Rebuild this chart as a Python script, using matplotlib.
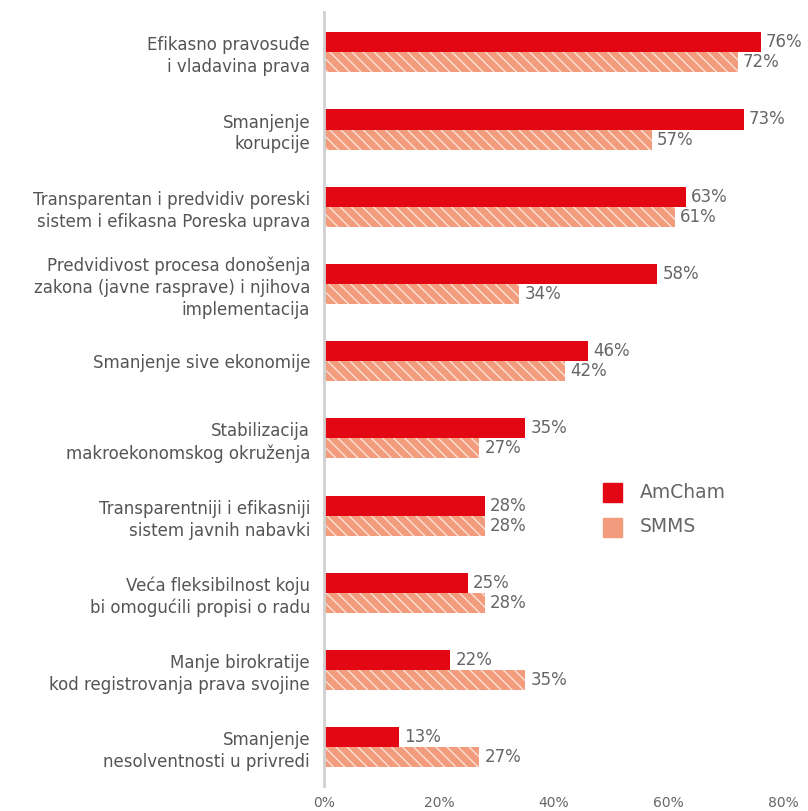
import numpy as np
import matplotlib.pyplot as plt

# data
categories = [
    "Efikasno pravosuđe\ni vladavina prava",
    "Smanjenje\nkorupcije",
    "Transparentan i predvidiv poreski\nsistem i efikasna Poreska uprava",
    "Predvidivost procesa donošenja\nzakona (javne rasprave) i njihova\nimplementacija",
    "Smanjenje sive ekonomije",
    "Stabilizacija\nmakroekonomskog okruženja",
    "Transparentniji i efikasniji\nsistem javnih nabavki",
    "Veća fleksibilnost koju\nbi omogućili propisi o radu",
    "Manje birokratije\nkod registrovanja prava svojine",
    "Smanjenje\nnesolventnosti u privredi",
]
amcham = [76, 73, 63, 58, 46, 35, 28, 25, 22, 13]
smms = [72, 57, 61, 34, 42, 27, 28, 28, 35, 27]
xticks = [0, 20, 40, 60, 80]

red = "#E30613"
salmon = "#F29B7D"
grey = "#666666"

plt.rcParams['hatch.linewidth'] = 1.0

fig = plt.figure(figsize=(8.08, 8.11), dpi=100)
ax = fig.add_axes([0.401, 0.031, 0.569, 0.954])

y = np.arange(len(categories))
h = 0.26
b1 = ax.barh(y - h / 2, amcham, height=h, color=red, linewidth=0)
b2 = ax.barh(y + h / 2, smms, height=h, color=salmon, edgecolor="#fde2d6",
             hatch="\\\\\\", linewidth=0)

for rect, v in zip(b1, amcham):
    ax.text(v + 0.9, rect.get_y() + h / 2, f"{v}%", va="center", ha="left",
            fontsize=12, color=grey)
for rect, v in zip(b2, smms):
    ax.text(v + 0.9, rect.get_y() + h / 2, f"{v}%", va="center", ha="left",
            fontsize=12, color=grey)

ax.set_xlim(0, 80)
ax.set_ylim(9.5, -0.52)
ax.set_yticks(y)
ax.set_yticklabels(categories, fontsize=12, color="#555555", linespacing=1.28)
ax.set_xticks(xticks)
ax.set_xticklabels([f"{t}%" for t in xticks], fontsize=10, color=grey)
ax.tick_params(axis="y", length=0, pad=10)
ax.tick_params(axis="x", length=0, pad=7)
for s in ["top", "right", "bottom"]:
    ax.spines[s].set_visible(False)
ax.spines["left"].set_color("#d0d0d0")
ax.spines["left"].set_linewidth(2)

# legend
fig.patches.append(plt.Rectangle((603 / 808, 1 - 502 / 811), 19 / 808, 19 / 811,
                                 transform=fig.transFigure, color=red))
fig.patches.append(plt.Rectangle((603 / 808, 1 - 537 / 811), 19 / 808, 19 / 811,
                                 transform=fig.transFigure, color=salmon))
fig.text(640 / 808, 1 - 492 / 811, "AmCham", fontsize=13.5, color=grey, va="center")
fig.text(640 / 808, 1 - 527 / 811, "SMMS", fontsize=13.5, color=grey, va="center")

fig.savefig("out.png", dpi=100)
